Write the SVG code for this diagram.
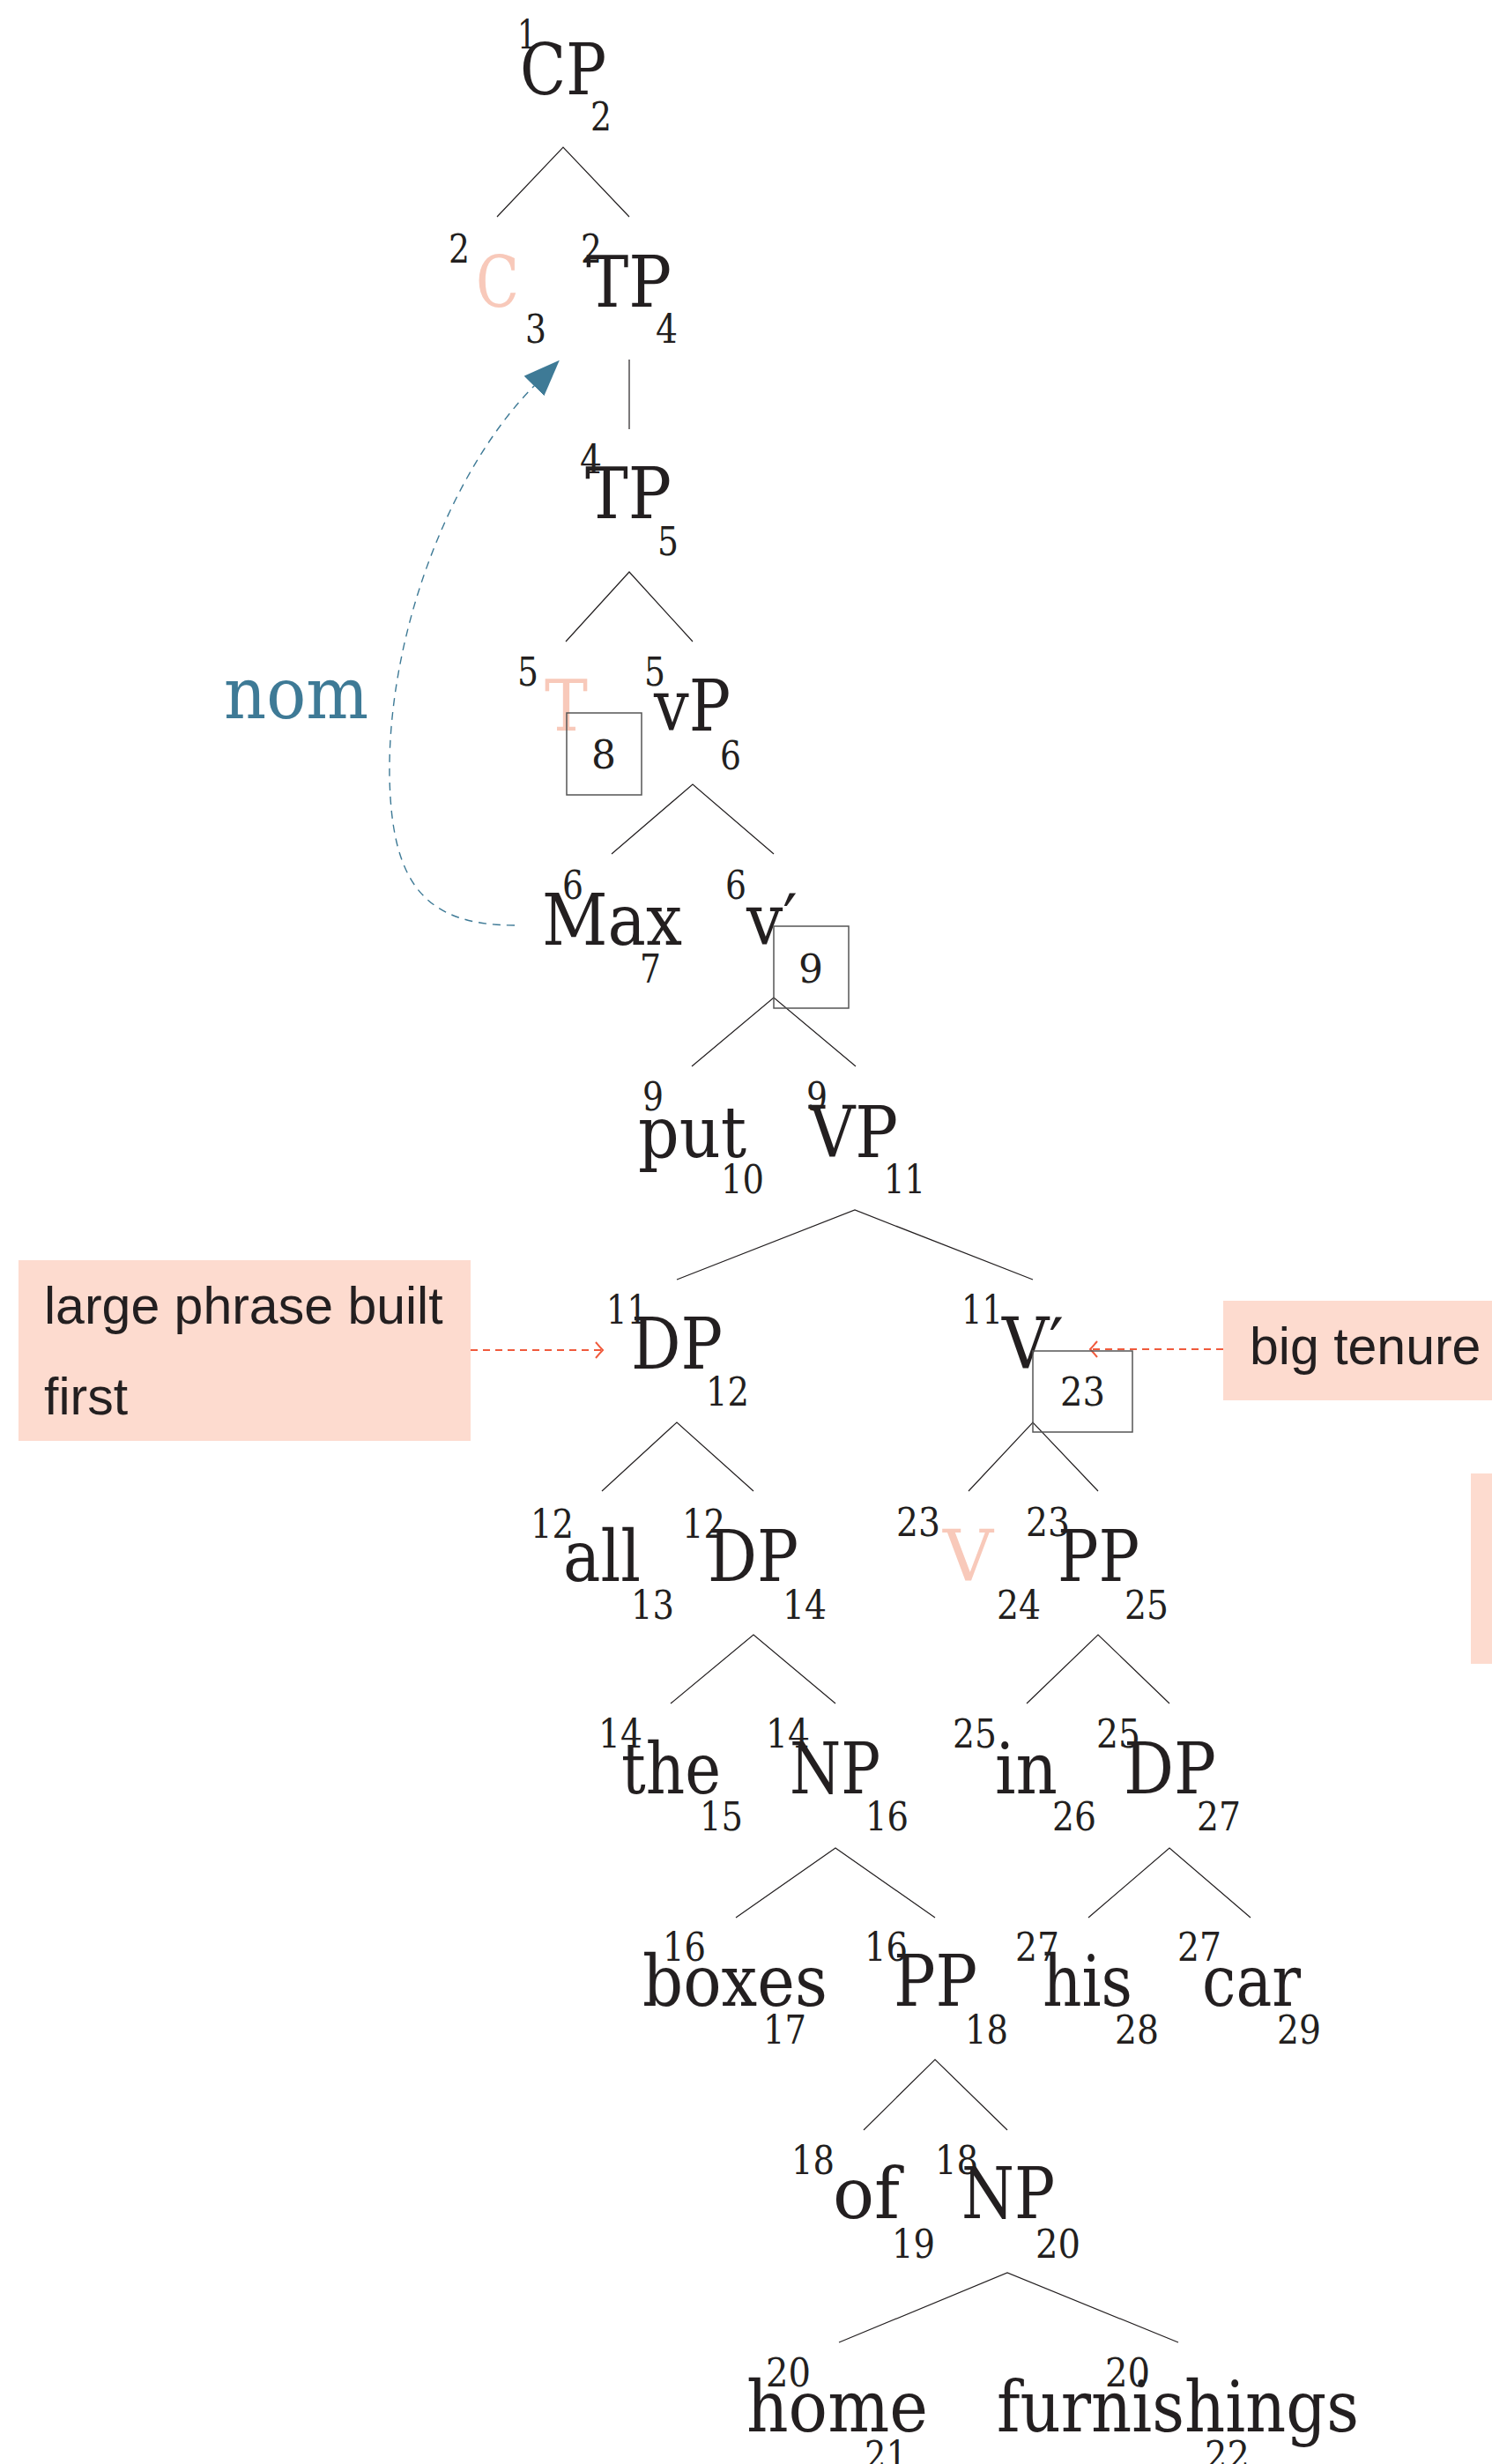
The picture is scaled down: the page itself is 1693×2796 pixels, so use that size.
<svg xmlns="http://www.w3.org/2000/svg" width="1693" height="2796" viewBox="0 0 1693 2796">
<style>
.lbl{font-family:"DejaVu Serif",serif;font-size:80px;fill:#231f20}
.pink{fill:#f8c9ba}
.idx{font-family:"DejaVu Serif",serif;font-size:44px;fill:#231f20}
.edge{stroke:#231f20;stroke-width:1.2;fill:none}
.box{fill:none;stroke:#555;stroke-width:1.5}
.note{fill:#fddbcf}
.ntxt{font-family:"Liberation Sans",Arial,sans-serif;font-size:59px;fill:#231f20}
.red{stroke:#f05a3c;stroke-width:2;stroke-dasharray:8 6;fill:none}
.blue{stroke:#3e7a96;stroke-width:1.4;stroke-dasharray:9 7;fill:none}
</style>
<defs>
<marker id="tri" markerUnits="userSpaceOnUse" viewBox="0 -16 41 32" refX="0" refY="0" markerWidth="41" markerHeight="32" orient="auto"><path d="M0,-16 L41,0 L0,16 Z" fill="#3e7a96"/></marker>
<marker id="chev" markerUnits="userSpaceOnUse" viewBox="-1 -11 11 22" refX="8" refY="0" markerWidth="11" markerHeight="22" orient="auto"><path d="M0,-9 Q5,-3 8,0 Q5,3 0,9" fill="none" stroke="#f05a3c" stroke-width="2"/></marker>
</defs>
<rect width="1693" height="2796" fill="#fff"/>

<g id="connectors">
<path class="edge" d="M564,246 L639,167 L714,246"/>
<path class="edge" d="M714,408 L714,487"/>
<path class="edge" d="M642,728 L714,649 L786,728"/>
<path class="edge" d="M694,969 L786,890 L878,969"/>
<path class="edge" d="M785,1210 L878,1132 L971,1210"/>
<path class="edge" d="M768,1452 L970,1373 L1172,1452"/>
<path class="edge" d="M683,1692 L768,1614 L855,1692"/>
<path class="edge" d="M1099,1692 L1172,1614 L1246,1692"/>
<path class="edge" d="M761,1933 L855,1855 L948,1933"/>
<path class="edge" d="M1165,1933 L1246,1855 L1327,1933"/>
<path class="edge" d="M835,2176 L948,2097 L1061,2176"/>
<path class="edge" d="M1235,2176 L1327,2097 L1419,2176"/>
<path class="edge" d="M980,2417 L1061,2337 L1143,2417"/>
<path class="edge" d="M952,2658 L1143,2579 L1337,2658"/>
<path class="blue" d="M584,1050 C480,1050 444,1000 442,880 C440,720 510,535 606,438" marker-end="url(#tri)"/>
<path class="red" d="M534,1532 H684" marker-end="url(#chev)"/>
<path class="red" d="M1388,1531 H1237" marker-end="url(#chev)"/>
</g>

<g id="note-nom"><text class="lbl" x="254" y="815" font-size="78" textLength="164" lengthAdjust="spacingAndGlyphs" style="fill:#3e7a96">nom</text></g>

<g id="note-large">
<rect class="note" x="21" y="1430" width="513" height="205"/>
<text class="ntxt" x="50" y="1502">large phrase built</text>
<text class="ntxt" x="50" y="1605">first</text>
</g>
<g id="note-tenure">
<rect class="note" x="1388" y="1476" width="305" height="113"/>
<text class="ntxt" x="1418" y="1548">big tenure</text>
</g>
<g id="note-cut"><rect class="note" x="1669" y="1672" width="24" height="216"/></g>

<g id="n-CP"><text class="lbl" x="590" y="107" textLength="98" lengthAdjust="spacingAndGlyphs">CP</text><text class="idx" x="587" y="55" textLength="22" lengthAdjust="spacingAndGlyphs">1</text><text class="idx" x="670" y="148" textLength="24" lengthAdjust="spacingAndGlyphs">2</text></g>
<g id="n-C"><text class="lbl pink" x="540" y="348" textLength="49" lengthAdjust="spacingAndGlyphs">C</text><text class="idx" x="509" y="298" textLength="24" lengthAdjust="spacingAndGlyphs">2</text><text class="idx" x="596" y="389" textLength="24" lengthAdjust="spacingAndGlyphs">3</text></g>
<g id="n-TP1"><text class="lbl" x="665" y="348" textLength="97" lengthAdjust="spacingAndGlyphs">TP</text><text class="idx" x="659" y="298" textLength="24" lengthAdjust="spacingAndGlyphs">2</text><text class="idx" x="744" y="389" textLength="25" lengthAdjust="spacingAndGlyphs">4</text></g>
<g id="n-TP2"><text class="lbl" x="664" y="588" textLength="98" lengthAdjust="spacingAndGlyphs">TP</text><text class="idx" x="658" y="537" textLength="25" lengthAdjust="spacingAndGlyphs">4</text><text class="idx" x="746" y="630" textLength="24" lengthAdjust="spacingAndGlyphs">5</text></g>
<g id="n-T"><text class="lbl pink" x="618" y="829" textLength="49" lengthAdjust="spacingAndGlyphs">T</text><text class="idx" x="587" y="778" textLength="24" lengthAdjust="spacingAndGlyphs">5</text><rect class="box" x="643" y="809" width="85" height="93"/><text class="idx" x="685" y="872" text-anchor="middle">8</text></g>
<g id="n-vP"><text class="lbl" x="742" y="829" textLength="87" lengthAdjust="spacingAndGlyphs">vP</text><text class="idx" x="731" y="778" textLength="24" lengthAdjust="spacingAndGlyphs">5</text><text class="idx" x="817" y="873" textLength="24" lengthAdjust="spacingAndGlyphs">6</text></g>
<g id="n-Max"><text class="lbl" x="615" y="1072" textLength="159" lengthAdjust="spacingAndGlyphs">Max</text><text class="idx" x="638" y="1020" textLength="24" lengthAdjust="spacingAndGlyphs">6</text><text class="idx" x="726" y="1115" textLength="24" lengthAdjust="spacingAndGlyphs">7</text></g>
<g id="n-vbar"><text class="lbl" x="847" y="1072" textLength="58" lengthAdjust="spacingAndGlyphs">v′</text><text class="idx" x="823" y="1020" textLength="24" lengthAdjust="spacingAndGlyphs">6</text><rect class="box" x="878" y="1051" width="85" height="93"/><text class="idx" x="920" y="1115" text-anchor="middle">9</text></g>
<g id="n-put"><text class="lbl" x="724" y="1313" textLength="123" lengthAdjust="spacingAndGlyphs">put</text><text class="idx" x="729" y="1260" textLength="24" lengthAdjust="spacingAndGlyphs">9</text><text class="idx" x="818" y="1354" textLength="49" lengthAdjust="spacingAndGlyphs">10</text></g>
<g id="n-VP"><text class="lbl" x="918" y="1313" textLength="101" lengthAdjust="spacingAndGlyphs">VP</text><text class="idx" x="915" y="1260" textLength="24" lengthAdjust="spacingAndGlyphs">9</text><text class="idx" x="1003" y="1354" textLength="47" lengthAdjust="spacingAndGlyphs">11</text></g>
<g id="n-DP1"><text class="lbl" x="716" y="1553" textLength="104" lengthAdjust="spacingAndGlyphs">DP</text><text class="idx" x="688" y="1502" textLength="47" lengthAdjust="spacingAndGlyphs">11</text><text class="idx" x="801" y="1595" textLength="49" lengthAdjust="spacingAndGlyphs">12</text></g>
<g id="n-Vbar"><text class="lbl" x="1137" y="1553" textLength="70" lengthAdjust="spacingAndGlyphs">V′</text><text class="idx" x="1091" y="1502" textLength="47" lengthAdjust="spacingAndGlyphs">11</text><rect class="box" x="1172" y="1533" width="113" height="92"/><text class="idx" x="1203" y="1595" textLength="51" lengthAdjust="spacingAndGlyphs">23</text></g>
<g id="n-all"><text class="lbl" x="639" y="1794" textLength="88" lengthAdjust="spacingAndGlyphs">all</text><text class="idx" x="602" y="1745" textLength="49" lengthAdjust="spacingAndGlyphs">12</text><text class="idx" x="716" y="1837" textLength="49" lengthAdjust="spacingAndGlyphs">13</text></g>
<g id="n-DP2"><text class="lbl" x="803" y="1794" textLength="103" lengthAdjust="spacingAndGlyphs">DP</text><text class="idx" x="774" y="1745" textLength="49" lengthAdjust="spacingAndGlyphs">12</text><text class="idx" x="888" y="1837" textLength="50" lengthAdjust="spacingAndGlyphs">14</text></g>
<g id="n-V"><text class="lbl pink" x="1070" y="1794" textLength="57" lengthAdjust="spacingAndGlyphs">V</text><text class="idx" x="1017" y="1743" textLength="50" lengthAdjust="spacingAndGlyphs">23</text><text class="idx" x="1131" y="1837" textLength="50" lengthAdjust="spacingAndGlyphs">24</text></g>
<g id="n-PP1"><text class="lbl" x="1200" y="1794" textLength="93" lengthAdjust="spacingAndGlyphs">PP</text><text class="idx" x="1164" y="1743" textLength="50" lengthAdjust="spacingAndGlyphs">23</text><text class="idx" x="1276" y="1837" textLength="50" lengthAdjust="spacingAndGlyphs">25</text></g>
<g id="n-the"><text class="lbl" x="705" y="2035" textLength="113" lengthAdjust="spacingAndGlyphs">the</text><text class="idx" x="679" y="1983" textLength="50" lengthAdjust="spacingAndGlyphs">14</text><text class="idx" x="794" y="2077" textLength="49" lengthAdjust="spacingAndGlyphs">15</text></g>
<g id="n-NP1"><text class="lbl" x="896" y="2035" textLength="103" lengthAdjust="spacingAndGlyphs">NP</text><text class="idx" x="869" y="1983" textLength="50" lengthAdjust="spacingAndGlyphs">14</text><text class="idx" x="982" y="2077" textLength="49" lengthAdjust="spacingAndGlyphs">16</text></g>
<g id="n-in"><text class="lbl" x="1129" y="2035" textLength="71" lengthAdjust="spacingAndGlyphs">in</text><text class="idx" x="1081" y="1983" textLength="50" lengthAdjust="spacingAndGlyphs">25</text><text class="idx" x="1194" y="2077" textLength="50" lengthAdjust="spacingAndGlyphs">26</text></g>
<g id="n-DP3"><text class="lbl" x="1275" y="2035" textLength="105" lengthAdjust="spacingAndGlyphs">DP</text><text class="idx" x="1244" y="1983" textLength="50" lengthAdjust="spacingAndGlyphs">25</text><text class="idx" x="1358" y="2077" textLength="50" lengthAdjust="spacingAndGlyphs">27</text></g>
<g id="n-boxes"><text class="lbl" x="729" y="2276" textLength="210" lengthAdjust="spacingAndGlyphs">boxes</text><text class="idx" x="752" y="2225" textLength="49" lengthAdjust="spacingAndGlyphs">16</text><text class="idx" x="866" y="2319" textLength="49" lengthAdjust="spacingAndGlyphs">17</text></g>
<g id="n-PP2"><text class="lbl" x="1014" y="2276" textLength="95" lengthAdjust="spacingAndGlyphs">PP</text><text class="idx" x="981" y="2225" textLength="49" lengthAdjust="spacingAndGlyphs">16</text><text class="idx" x="1095" y="2319" textLength="49" lengthAdjust="spacingAndGlyphs">18</text></g>
<g id="n-his"><text class="lbl" x="1183" y="2276" textLength="102" lengthAdjust="spacingAndGlyphs">his</text><text class="idx" x="1152" y="2225" textLength="50" lengthAdjust="spacingAndGlyphs">27</text><text class="idx" x="1265" y="2319" textLength="50" lengthAdjust="spacingAndGlyphs">28</text></g>
<g id="n-car"><text class="lbl" x="1364" y="2276" textLength="112" lengthAdjust="spacingAndGlyphs">car</text><text class="idx" x="1336" y="2225" textLength="50" lengthAdjust="spacingAndGlyphs">27</text><text class="idx" x="1449" y="2319" textLength="50" lengthAdjust="spacingAndGlyphs">29</text></g>
<g id="n-of"><text class="lbl" x="945" y="2517" textLength="76" lengthAdjust="spacingAndGlyphs">of</text><text class="idx" x="898" y="2467" textLength="49" lengthAdjust="spacingAndGlyphs">18</text><text class="idx" x="1012" y="2562" textLength="49" lengthAdjust="spacingAndGlyphs">19</text></g>
<g id="n-NP2"><text class="lbl" x="1091" y="2517" textLength="106" lengthAdjust="spacingAndGlyphs">NP</text><text class="idx" x="1061" y="2467" textLength="49" lengthAdjust="spacingAndGlyphs">18</text><text class="idx" x="1175" y="2562" textLength="51" lengthAdjust="spacingAndGlyphs">20</text></g>
<g id="n-home"><text class="lbl" x="847" y="2759" textLength="206" lengthAdjust="spacingAndGlyphs">home</text><text class="idx" x="869" y="2708" textLength="51" lengthAdjust="spacingAndGlyphs">20</text><text class="idx" x="981" y="2802" textLength="49" lengthAdjust="spacingAndGlyphs">21</text></g>
<g id="n-furnishings"><text class="lbl" x="1131" y="2759" textLength="411" lengthAdjust="spacingAndGlyphs">furnishings</text><text class="idx" x="1254" y="2708" textLength="51" lengthAdjust="spacingAndGlyphs">20</text><text class="idx" x="1367" y="2802" textLength="51" lengthAdjust="spacingAndGlyphs">22</text></g>
</svg>
